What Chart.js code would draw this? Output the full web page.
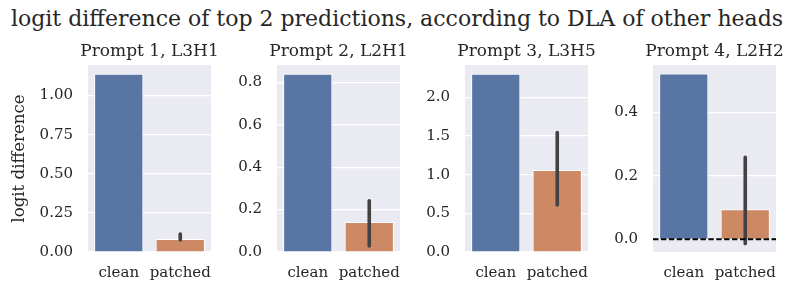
<!DOCTYPE html>
<html><head><meta charset="utf-8">
<script src="https://cdn.jsdelivr.net/npm/chart.js@4.4.1/dist/chart.umd.min.js"></script>
<style>
html,body{margin:0;padding:0;background:#fff;}
#wrap{position:relative;width:802px;height:290px;overflow:hidden;}
#wrap canvas{position:absolute;left:0;top:0;}
#suptitle{position:absolute;left:0;top:6px;width:794px;text-align:center;font-family:'DejaVu Serif';font-size:22px;color:#262626;white-space:nowrap;line-height:26px;}
</style></head><body>
<div id="wrap">
<div id="suptitle">logit difference of top 2 predictions, according to DLA of other heads</div>
<canvas id="c0" width="802" height="290"></canvas>
<canvas id="c1" width="802" height="290"></canvas>
<canvas id="c2" width="802" height="290"></canvas>
<canvas id="c3" width="802" height="290"></canvas>
</div>
<script>
const categories = ['clean', 'patched'];
const panelTitles = ['Prompt 1, L3H1', 'Prompt 2, L2H1', 'Prompt 3, L3H5', 'Prompt 4, L2H2'];
const cleanValues = [1.139, 0.841, 2.306, 0.522];
const patchedValues = [0.083, 0.142, 1.06, 0.095];
const patchedErrLow = [0.077, 0.028, 0.608, -0.0135];
const patchedErrHigh = [0.115, 0.242, 1.546, 0.258];
const yTicks = [
  [0, 0.25, 0.5, 0.75, 1.0],
  [0, 0.2, 0.4, 0.6, 0.8],
  [0, 0.5, 1.0, 1.5, 2.0],
  [0, 0.2, 0.4]
];
const yTickDecimals = [2, 1, 1, 1];
const yMin = [0, 0, 0, -0.04];
const yMax = [1.195, 0.882, 2.419, 0.549];
const zeroLine = [false, false, false, true];
const yAxisTitle = 'logit difference';

// layout (pixels)
const plotLeft = [88, 277, 465, 653];
const plotRight = [211, 400, 588, 776];
const axisWidth = [88, 60, 60, 60];

const FONT = 'DejaVu Serif';
const TEXT = '#262626';

const bgPlugin = {
  id: 'bg',
  beforeDraw(chart) {
    const a = chart.chartArea, ctx = chart.ctx;
    ctx.save();
    ctx.fillStyle = '#eaeaf2';
    ctx.fillRect(a.left, a.top, a.right - a.left, a.bottom - a.top);
    ctx.restore();
  }
};

const panelTitlePlugin = {
  id: 'ptitle',
  afterDraw(chart) {
    const i = chart.options.plugins.err.idx;
    const a = chart.chartArea, ctx = chart.ctx;
    ctx.save();
    ctx.fillStyle = TEXT;
    ctx.font = '17px "' + FONT + '"';
    ctx.textAlign = 'center';
    ctx.textBaseline = 'alphabetic';
    ctx.fillText(panelTitles[i], (a.left + a.right) / 2, 56);
    ctx.restore();
  }
};

const errPlugin = {
  id: 'err',
  afterDatasetsDraw(chart) {
    const i = chart.options.plugins.err.idx;
    const ctx = chart.ctx, y = chart.scales.y, a = chart.chartArea;
    const bar = chart.getDatasetMeta(0).data[1];
    ctx.save();
    ctx.strokeStyle = '#424242';
    ctx.lineWidth = 3.6;
    ctx.lineCap = 'round';
    ctx.beginPath();
    ctx.moveTo(bar.x, y.getPixelForValue(patchedErrLow[i]));
    ctx.lineTo(bar.x, y.getPixelForValue(patchedErrHigh[i]));
    ctx.stroke();
    if (zeroLine[i]) {
      const py = y.getPixelForValue(0);
      ctx.strokeStyle = '#000';
      ctx.lineWidth = 2;
      ctx.lineCap = 'butt';
      ctx.setLineDash([5.5, 2.4]);
      ctx.beginPath();
      ctx.moveTo(a.left, py);
      ctx.lineTo(a.right, py);
      ctx.stroke();
    }
    ctx.restore();
  }
};

for (let i = 0; i < 4; i++) {
  new Chart(document.getElementById('c' + i), {
    type: 'bar',
    data: {
      labels: categories,
      datasets: [{
        data: [cleanValues[i], patchedValues[i]],
        backgroundColor: ['#5975a4', '#cc8963'],
        borderColor: '#ffffff',
        borderWidth: 1,
        categoryPercentage: 0.8,
        barPercentage: 1.0
      }]
    },
    options: {
      responsive: false,
      animation: false,
      devicePixelRatio: 1,
      layout: { padding: { left: plotLeft[i] - axisWidth[i], right: 802 - plotRight[i], top: 65, bottom: 0 } },
      plugins: {
        legend: { display: false },
        tooltip: { enabled: false },
        title: { display: false },
        err: { idx: i }
      },
      scales: {
        x: {
          grid: { display: false, drawTicks: false },
          border: { display: false },
          ticks: { color: TEXT, font: { family: FONT, size: 15 }, padding: 12, autoSkip: false, maxRotation: 0, minRotation: 0 },
          afterFit(s) { s.height = 38; }
        },
        y: {
          min: yMin[i], max: yMax[i],
          grid: { color: '#ffffff', lineWidth: 1.2, drawTicks: false },
          border: { display: false },
          ticks: {
            color: TEXT, font: { family: FONT, size: 15 }, padding: 15,
            callback: (v) => Number(v).toFixed(yTickDecimals[i])
          },
          afterBuildTicks(s) { s.ticks = yTicks[i].map(v => ({ value: v })); },
          title: {
            display: i === 0, text: yAxisTitle, color: TEXT,
            font: { family: FONT, size: 16.6, lineHeight: 1.2 }, padding: { top: 10, bottom: 0 }
          },
          afterFit(s) { s.width = axisWidth[i]; }
        }
      }
    },
    plugins: [bgPlugin, errPlugin, panelTitlePlugin]
  });
}
</script>
</body></html>
